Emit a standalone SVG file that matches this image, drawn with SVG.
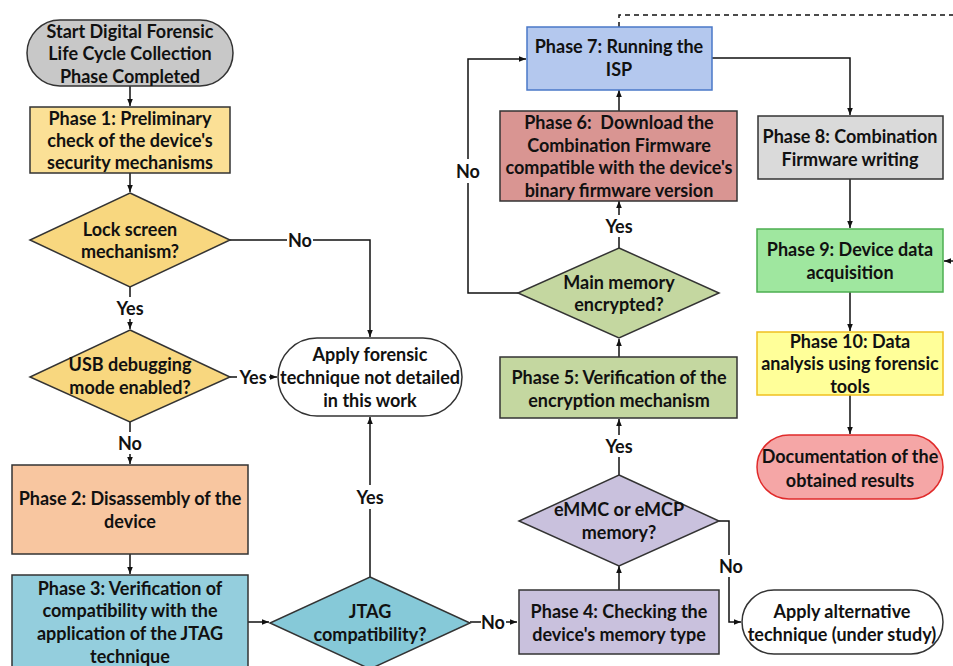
<svg xmlns="http://www.w3.org/2000/svg" width="953" height="666" viewBox="0 0 953 666">
<defs>
<marker id="ah" viewBox="0 0 10 10" refX="10" refY="5" markerWidth="7" markerHeight="7" markerUnits="userSpaceOnUse" orient="auto">
<path d="M0,1 L10,5 L0,9 z" fill="#111"/>
</marker>
</defs>
<style>
text{font-family:Lato,"Open Sans","Liberation Sans",sans-serif;font-weight:bold;font-size:18px;fill:#111;text-anchor:middle;dominant-baseline:central}
.n{stroke:#333;stroke-width:1.5}
.c{fill:none;stroke:#111;stroke-width:1.5}
.a{marker-end:url(#ah)}
</style>
<rect width="953" height="666" fill="#fff"/>

<g id="connectors">
<path class="c a" d="M130,86 V106"/>
<path class="c a" d="M130,173 V192"/>
<path class="c" d="M230,240 H287"/>
<path class="c a" d="M313,240 H370 V337"/>
<path class="c" d="M130,287 V297"/>
<path class="c a" d="M130,319 V329"/>
<path class="c" d="M230,377 H237"/>
<path class="c a" d="M269,377 H277"/>
<path class="c" d="M130,422 V432"/>
<path class="c a" d="M130,454 V464"/>
<path class="c a" d="M130,554 V574"/>
<path class="c a" d="M248,622 H269"/>
<path class="c" d="M370,577 V509"/>
<path class="c a" d="M370,485 V417"/>
<path class="c" d="M470,622 H481"/>
<path class="c a" d="M506,622 H517"/>
<path class="c a" d="M619,590 V566"/>
<path class="c" d="M719,521 H729 V555"/>
<path class="c a" d="M729,577 V622 H741"/>
<path class="c" d="M619,475 V457"/>
<path class="c a" d="M619,435 V419"/>
<path class="c a" d="M619,357 V339"/>
<path class="c" d="M518,293 H468 V183"/>
<path class="c a" d="M468,159 V59 H526"/>
<path class="c" d="M619,248 V237"/>
<path class="c a" d="M619,215 V201"/>
<path class="c a" d="M619,111 V90"/>
<path class="c a" d="M712,58 H850 V115"/>
<path class="c" d="M619,27 V15 H953" stroke-dasharray="5,4"/>
<path class="c a" d="M953,261 H944"/>
<path class="c a" d="M850,179 V228"/>
<path class="c a" d="M850,292 V331"/>
<path class="c a" d="M850,395 V434"/>
<text x="300" y="240">No</text>
<text x="130" y="308">Yes</text>
<text x="253" y="377">Yes</text>
<text x="130" y="443">No</text>
<text x="370" y="497">Yes</text>
<text x="493" y="622">No</text>
<text x="731" y="566">No</text>
<text x="619" y="446">Yes</text>
<text x="468" y="171">No</text>
<text x="619" y="226">Yes</text>
</g>

<g id="start">
<rect class="n" x="27" y="20" width="206" height="66" rx="33" fill="#c8c8c8"/>
<text x="130" y="31">Start Digital Forensic</text>
<text x="130" y="53">Life Cycle Collection</text>
<text x="130" y="76">Phase Completed</text>
</g>
<g id="phase1">
<rect class="n" x="30" y="107" width="200" height="66" fill="#fbe096"/>
<text x="130" y="118">Phase 1: Preliminary</text>
<text x="130" y="140">check of the device's</text>
<text x="130" y="162">security mechanisms</text>
</g>
<g id="lockscreen">
<polygon class="n" points="130,193 230,240 130,287 30,240" fill="#f8d77f"/>
<text x="130" y="229">Lock screen</text>
<text x="130" y="251">mechanism?</text>
</g>
<g id="usb">
<polygon class="n" points="130,330 230,377 130,422 30,377" fill="#f8d77f"/>
<text x="130" y="364">USB debugging</text>
<text x="130" y="387">mode enabled?</text>
</g>
<g id="applyforensic">
<rect class="n" x="278" y="338" width="184" height="78" rx="39" fill="#fff"/>
<text x="370" y="354">Apply forensic</text>
<text x="370" y="377">technique not detailed</text>
<text x="370" y="400">in this work</text>
</g>
<g id="phase2">
<rect class="n" x="12" y="465" width="236" height="89" fill="#f8c6a0"/>
<text x="130" y="498">Phase 2: Disassembly of the</text>
<text x="130" y="521">device</text>
</g>
<g id="phase3">
<rect class="n" x="12" y="575" width="236" height="100" fill="#94cedd"/>
<text x="130" y="588">Phase 3: Verification of</text>
<text x="130" y="610">compatibility with the</text>
<text x="130" y="633">application of the JTAG</text>
<text x="130" y="656">technique</text>
</g>
<g id="jtag">
<polygon class="n" points="370,577 470,623 370,669 270,623" fill="#86c9d8"/>
<text x="370" y="611">JTAG</text>
<text x="370" y="634">compatibility?</text>
</g>
<g id="phase4">
<rect class="n" x="519" y="590" width="200" height="64" fill="#c9c1dd"/>
<text x="619" y="611">Phase 4: Checking the</text>
<text x="619" y="634">device's memory type</text>
</g>
<g id="emmc">
<polygon class="n" points="619,475 719,521 619,566 519,521" fill="#c9c1dd"/>
<text x="619" y="509">eMMC or eMCP</text>
<text x="619" y="532">memory?</text>
</g>
<g id="applyalternative">
<rect class="n" x="742" y="590" width="201" height="64" rx="32" fill="#fff"/>
<text x="842" y="611">Apply alternative</text>
<text x="842" y="634">technique (under study)</text>
</g>
<g id="phase5">
<rect class="n" x="500" y="357" width="237" height="61" fill="#c4d7a0"/>
<text x="619" y="377">Phase 5: Verification of the</text>
<text x="619" y="400">encryption mechanism</text>
</g>
<g id="mainmemory">
<polygon class="n" points="619,248 719,293 619,338 518,293" fill="#c4d7a0"/>
<text x="619" y="282">Main memory</text>
<text x="619" y="304">encrypted?</text>
</g>
<g id="phase6">
<rect class="n" x="500" y="111" width="237" height="90" fill="#d99592"/>
<text x="619" y="122">Phase 6:&#160; Download the</text>
<text x="619" y="145">Combination Firmware</text>
<text x="619" y="167">compatible with the device's</text>
<text x="619" y="190">binary firmware version</text>
</g>
<g id="phase7">
<rect x="527" y="27" width="185" height="63" fill="#b4c8ee" stroke="#4a78c8" stroke-width="1.5"/>
<text x="619" y="46">Phase 7: Running the</text>
<text x="619" y="69">ISP</text>
</g>
<g id="phase8">
<rect class="n" x="758" y="116" width="185" height="63" fill="#dadada"/>
<text x="850" y="136">Phase 8: Combination</text>
<text x="850" y="159">Firmware writing</text>
</g>
<g id="phase9">
<rect x="757" y="229" width="186" height="63" fill="#9fe79f" stroke="#4caf50" stroke-width="1.5"/>
<text x="850" y="249">Phase 9: Device data</text>
<text x="850" y="272">acquisition</text>
</g>
<g id="phase10">
<rect x="757" y="332" width="186" height="63" fill="#ffff99" stroke="#f0c020" stroke-width="1.5"/>
<text x="850" y="341">Phase 10: Data</text>
<text x="850" y="363">analysis using forensic</text>
<text x="850" y="386">tools</text>
</g>
<g id="documentation">
<rect x="757" y="435" width="186" height="64" rx="32" fill="#f5a6a6" stroke="#e02a2a" stroke-width="1.5"/>
<text x="850" y="456">Documentation of the</text>
<text x="850" y="480">obtained results</text>
</g>
</svg>
